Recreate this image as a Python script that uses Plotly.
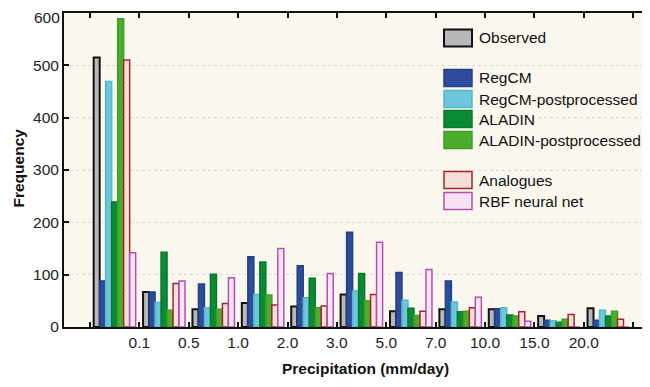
import plotly.graph_objects as go

# ---- data ----
bin_edges = ["0.1", "0.5", "1.0", "2.0", "3.0", "5.0", "7.0", "10.0", "15.0", "20.0"]
series_names = ["Observed", "RegCM", "RegCM-postprocessed", "ALADIN",
                "ALADIN-postprocessed", "Analogues", "RBF neural net"]
observed  = [515, 67, 34, 46, 39, 62, 30, 34, 34, 21, 36]
regcm     = [88, 67, 82, 134, 117, 181, 104, 88, 35, 13, 13]
regcm_pp  = [469, 47, 37, 62, 56, 69, 51, 48, 37, 12, 32]
aladin    = [239, 143, 101, 124, 93, 102, 36, 29, 23, 9, 21]
aladin_pp = [589, 32, 34, 61, 37, 50, 22, 30, 21, 15, 30]
analogues = [510, 83, 45, 42, 40, 62, 30, 37, 29, 24, 15]
rbf       = [142, 88, 94, 150, 102, 162, 110, 57, 11, 0, 0]
y_ticks = [0, 100, 200, 300, 400, 500, 600]

series_values = [observed, regcm, regcm_pp, aladin, aladin_pp, analogues, rbf]
fills = ["#b9b9b9", "#2d4c9e", "#6cc6dc", "#0b8a34", "#4aae2c", "#f5ddd8", "#f8e2f1"]
lines = ["#111111", "#24407f", "#5ab4ca", "#087a2c", "#3f9c26", "#a3262a", "#b24fb0"]
patterns = [None, None, None, None, None,
            dict(shape="x", size=3, solidity=0.35, fgcolor="#d9a29b", bgcolor="#f9e9e5"),
            dict(shape="x", size=3, solidity=0.35, fgcolor="#dfaad3", bgcolor="#fcedf8")]

n_bins = len(observed)
x_pos = [i + 0.5 for i in range(n_bins)]

fig = go.Figure()
for name, vals, fc, lc, pat in zip(series_names, series_values, fills, lines, patterns):
    marker = dict(color=fc, line=dict(color=lc, width=1.5 if name != "Observed" else 2))
    if pat:
        marker["pattern"] = pat
    fig.add_trace(go.Bar(x=x_pos, y=vals, name=name, marker=marker, showlegend=False))

# ---- layout geometry (pixels) ----
# page body has an 8px default margin, so the figure is placed at (8, 8)
OFF = 8
W, H = 642, 379
L, R, T, B = 56, 0, 5, 60
pw, ph = W - L - R, H - T - B

def px(xp):  # viewport pixel -> paper x
    return (xp - OFF - L) / pw

def py(yp):  # viewport pixel -> paper y
    return (H - B - (yp - OFF)) / ph

FONT = "Arial, Liberation Sans, sans-serif"
FS = 15.5

# the top tick label would be clipped by the figure edge, so it is drawn as an
# annotation pinned to the top edge instead
axis_ticks = y_ticks[:-1]

fig.update_layout(
    width=W, height=H,
    margin=dict(l=L, r=R, t=T, b=B, autoexpand=False),
    paper_bgcolor="white",
    plot_bgcolor="#faf8ee",
    barmode="group", bargap=0.15, bargroupgap=0,
    font=dict(family=FONT, color="#222222", size=FS),
    xaxis=dict(
        range=[-0.526, 11.34],
        tickvals=list(range(n_bins + 1)),
        ticktext=[""] + bin_edges + [""],
        ticks="inside", ticklen=5, tickwidth=2, tickcolor="#111",
        showline=True, linecolor="#111", linewidth=2, mirror="ticks",
        showgrid=False, zeroline=False, automargin=False,
        tickfont=dict(size=FS),
    ),
    yaxis=dict(
        range=[y_ticks[0], y_ticks[-1]],
        tickvals=y_ticks,
        ticktext=[str(v) for v in axis_ticks] + [""],
        ticks="inside", ticklen=5, tickwidth=2, tickcolor="#111",
        showline=True, linecolor="#111", linewidth=2, mirror=False,
        showgrid=True, gridcolor="#e6d6cc", griddash="dot", gridwidth=1,
        zeroline=False, automargin=False,
        tickfont=dict(size=FS),
    ),
)

fig.add_annotation(text=str(y_ticks[-1]), x=0, xref="paper", xanchor="right", xshift=-3,
                   y=1 + T / ph, yref="paper", yanchor="top", borderpad=0,
                   showarrow=False, font=dict(size=FS, color="#222222"))

# axis titles
fig.add_annotation(text="<b>Precipitation (mm/day)</b>", x=px(365), y=py(368),
                   xref="paper", yref="paper", showarrow=False,
                   font=dict(size=FS, color="#111"), xanchor="center", yanchor="middle")
fig.add_annotation(text="<b>Frequency</b>", x=px(OFF - 1), y=py(168),
                   xref="paper", yref="paper", showarrow=False, textangle=-90,
                   font=dict(size=FS, color="#111"), xanchor="left", yanchor="middle")

# custom legend
legend_rows = [38, 78, 99, 119, 140, 180, 201]
for name, fc, lc, yc in zip(series_names, fills, lines, legend_rows):
    fig.add_shape(type="rect", xref="paper", yref="paper",
                  x0=px(444), x1=px(472), y0=py(yc - 8.5), y1=py(yc + 8.5),
                  fillcolor=fc, line=dict(color=lc, width=2 if name == "Observed" else 1.5))
    fig.add_annotation(text=name, x=px(477), y=py(yc), xref="paper", yref="paper",
                       showarrow=False, xanchor="left", yanchor="middle",
                       font=dict(size=FS, color="#111"))

fig.write_html("out.html")
